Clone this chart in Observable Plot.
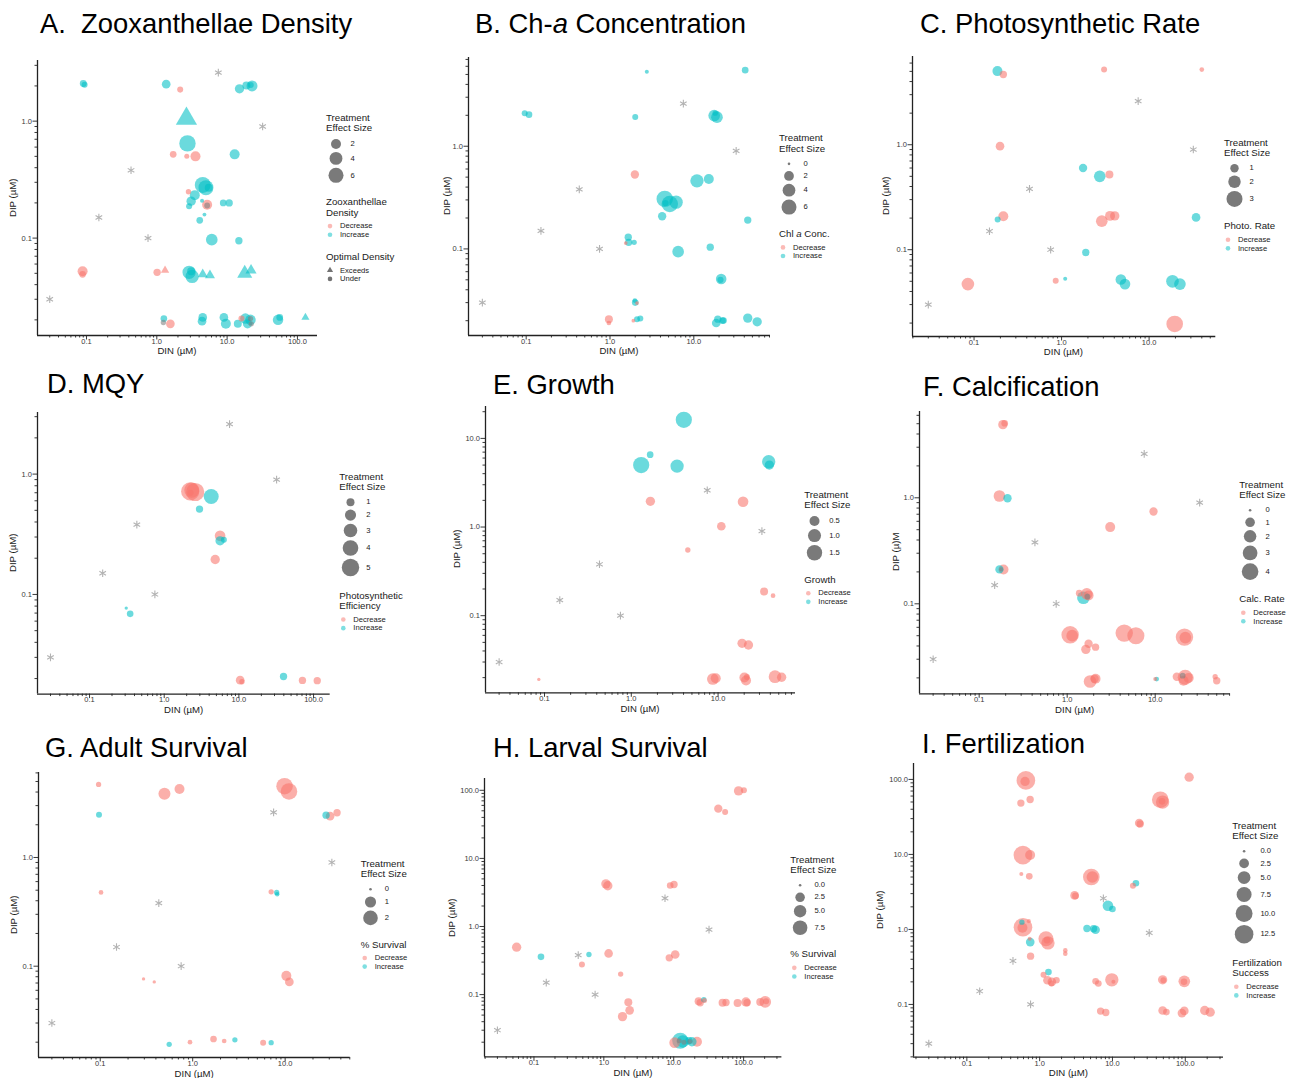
<!DOCTYPE html>
<html><head><meta charset="utf-8">
<script src="https://cdn.jsdelivr.net/npm/d3@7"></script>
<script src="https://cdn.jsdelivr.net/npm/@observablehq/plot@0.6"></script>
<style>
body{margin:0;background:#fff;}
#root{position:relative;width:1295px;height:1078px;overflow:hidden;font-family:"Liberation Sans",Arial,Helvetica,sans-serif;color:#111;}
.abs{position:absolute;white-space:nowrap;}
</style></head><body><div id="root"></div>
<script>
// ---------- DATA ----------
// reference (asterisk) nutrient points, shared by all panels
const refDIN = [0.03, 0.15, 0.43, 0.75, 7.5, 32];
const refDIP = [0.03, 0.15, 0.38, 0.10, 2.6, 0.9];

// tick labels
const tickValues = [0.1, 1, 10, 100];
const tickLabels = ["0.1", "1.0", "10.0", "100.0"];

// rows: [DIN, DIP, effect size, direction (D=Decrease, I=Increase, N=none), shape (T=Exceeds)]
const panelA = [
  [0.09,2.1,0.6,"I"],[0.094,2.05,0.35,"I"],[1.36,2.07,1.3,"I"],[2.15,1.86,0.35,"D"],
  [15,1.89,1.64,"I"],[18.8,2.02,1.0,"I"],[22.6,2.0,2.63,"I"],[21.7,2.04,0.35,"I"],
  [2.64,1.05,6.8,"I","T"],[2.73,0.645,7.5,"I"],[1.71,0.52,0.53,"D"],[2.67,0.5,0.15,"D"],
  [3.55,0.5,2.0,"D"],[12.8,0.52,2.0,"I"],[2.82,0.249,0.2,"D"],[3.47,0.233,2.0,"I"],
  [4.5,0.285,7.0,"I"],[5.0,0.27,6.0,"I"],[5.48,0.27,1.0,"I"],[3.08,0.207,1.64,"I"],
  [2.88,0.187,0.35,"I"],[4.4,0.209,0.03,"I"],[5.2,0.193,2.0,"D"],[5.2,0.19,0.3,"N"],
  [4.76,0.159,0.02,"I"],[4.08,0.142,0.53,"I"],[8.8,0.2,0.53,"I"],[10.7,0.2,0.75,"I"],
  [6.05,0.097,3.1,"I"],[14.7,0.095,0.75,"I"],[0.088,0.052,2.0,"D"],[0.088,0.049,0.53,"D"],
  [1.01,0.051,0.75,"D"],[1.31,0.053,0.4,"D","T"],[2.88,0.051,4.4,"I"],[3.18,0.047,4.4,"I"],
  [3.08,0.052,1.0,"I"],[4.5,0.049,0.78,"I","T"],[5.7,0.048,0.8,"I","T"],[17.8,0.05,2.75,"I","T"],
  [21.9,0.053,1.1,"I","T"],[1.26,0.0205,0.53,"I"],[1.24,0.019,0.2,"N"],[1.56,0.0185,1.3,"D"],
  [4.5,0.021,1.3,"I"],[4.4,0.0195,1.3,"I"],[9.0,0.021,1.3,"I"],[9.6,0.0185,2.0,"I"],
  [14.2,0.0185,1.0,"I"],[16,0.0205,0.35,"D"],[18.2,0.0205,2.3,"I"],[21.5,0.02,2.3,"I"],
  [19.5,0.0185,1.6,"I"],[21.5,0.0205,0.2,"N"],[22,0.0185,0.2,"N"],[53,0.02,2.3,"I"],
  [56,0.021,0.53,"I"],[130,0.021,0.35,"I","T"]
];
const panelB = [
  [2.75,5.3,0.08,"I"],[41,5.5,0.64,"I"],[0.096,2.1,0.45,"I"],[0.108,2.03,0.64,"I"],
  [2.0,1.93,0.45,"I"],[17.5,1.99,3.2,"I"],[18.9,1.92,3.2,"I"],[18,2.1,0.3,"I"],
  [1.98,0.53,1.28,"D"],[10.9,0.46,4.5,"I"],[15.1,0.48,2.14,"I"],[4.5,0.307,7.5,"I"],
  [5.17,0.274,7.5,"I"],[6.15,0.285,4.5,"I"],[4.6,0.28,0.5,"I"],[4.19,0.208,1.28,"I"],
  [44,0.191,0.87,"I"],[1.65,0.13,0.87,"I"],[1.67,0.116,0.87,"I"],[1.94,0.116,0.29,"I"],
  [1.54,0.114,0.05,"D"],[6.5,0.094,3.2,"I"],[15.7,0.104,0.87,"I"],[21.2,0.051,2.5,"I"],
  [20.8,0.05,0.5,"I"],[1.98,0.0314,0.17,"I"],[2.0,0.030,0.64,"I"],[2.1,0.0297,0.05,"D"],
  [0.97,0.0207,1.14,"D"],[0.97,0.019,0.17,"D"],[1.9,0.02,0.05,"D"],[2.1,0.0207,0.45,"I"],
  [2.3,0.021,0.45,"I"],[18.5,0.019,1.43,"I"],[19.3,0.0207,0.87,"I"],[22,0.02,0.64,"I"],
  [22.6,0.0201,0.64,"I"],[44,0.0212,1.77,"I"],[57,0.0195,1.77,"I"]
];
const panelC = [
  [0.185,5.03,1.37,"I"],[0.216,4.67,0.77,"D"],[3.06,5.2,0.5,"D"],[40,5.2,0.27,"D"],
  [0.198,0.97,1.06,"D"],[1.76,0.6,0.99,"I"],[2.73,0.5,1.79,"I"],[3.52,0.52,0.91,"D"],
  [0.216,0.208,1.37,"D"],[0.186,0.194,0.5,"I"],[2.88,0.187,1.79,"D"],[3.58,0.21,1.37,"D"],
  [4.05,0.21,1.22,"D"],[34.4,0.203,1.06,"I"],[1.89,0.094,0.77,"I"],[0.857,0.0507,0.5,"D"],
  [1.1,0.053,0.17,"I"],[0.085,0.047,2.06,"D"],[4.76,0.052,1.54,"I"],[5.3,0.047,1.54,"I"],
  [18.5,0.05,2.06,"I"],[22.5,0.047,1.79,"I"],[19.6,0.0196,3.19,"D"]
];
const panelD = [
  [2.23,0.718,5.5,"D"],[2.6,0.71,5.5,"D"],[2.34,0.736,3.7,"D"],[2.25,0.7,0.54,"D"],
  [4.26,0.652,3.7,"I"],[2.97,0.512,0.83,"I"],[5.6,0.307,1.82,"D"],[5.6,0.279,1.38,"I"],
  [6.3,0.285,0.54,"I"],[4.82,0.195,1.38,"D"],[0.31,0.077,0.15,"I"],[0.35,0.069,0.68,"I"],
  [10.4,0.0194,1.18,"D"],[11,0.0188,0.42,"D"],[39.6,0.0208,0.83,"I"],[71,0.0193,0.83,"D"],
  [112,0.0192,0.83,"D"]
];
const panelE = [
  [4.03,16.2,1.7,"I"],[1.3,5.0,1.7,"I"],[1.65,6.55,0.15,"I"],[3.37,4.87,1.05,"I"],
  [38.3,5.45,1.05,"I"],[39,5.0,0.41,"I"],[1.66,1.95,0.41,"D"],[19.4,1.93,0.59,"D"],
  [10.9,1.02,0.33,"D"],[4.48,0.55,0.07,"D"],[33.9,0.187,0.26,"D"],[43,0.168,0.04,"D"],
  [18.9,0.0488,0.41,"D"],[22.4,0.0467,0.41,"D"],[0.086,0.0191,0.005,"D"],[8.7,0.0193,0.75,"D"],
  [9.4,0.0197,0.5,"D"],[20.1,0.0201,0.5,"D"],[21,0.0186,0.5,"D"],[21.5,0.0203,0.1,"D"],
  [45.3,0.0205,0.93,"D"],[54,0.0202,0.41,"D"]
];
const panelF = [
  [0.186,4.9,0.93,"D"],[0.195,5.05,0.34,"D"],[0.17,1.04,1.68,"D"],[0.21,0.99,0.67,"I"],
  [9.57,0.743,0.67,"D"],[3.08,0.529,1.12,"D"],[0.189,0.211,1.12,"D"],[0.17,0.211,0.67,"I"],
  [0.178,0.211,0.05,"N"],[1.67,0.124,1.68,"D"],[1.37,0.126,0.34,"D"],[1.75,0.12,1.12,"D"],
  [1.53,0.114,2.07,"I"],[1.7,0.117,0.2,"N"],[1.08,0.051,4.5,"D"],[1.14,0.05,1.68,"D"],
  [4.45,0.0529,4.5,"D"],[6.03,0.0499,4.3,"D"],[21.5,0.0485,4.5,"D"],[22,0.048,1.68,"D"],
  [1.75,0.042,0.67,"D"],[1.63,0.0372,0.93,"D"],[2.1,0.039,0.46,"D"],[1.82,0.0185,2.07,"D"],
  [2.1,0.0196,1.12,"D"],[2.05,0.0196,0.67,"D"],[10,0.0195,0.04,"D"],[10.4,0.0195,0.09,"I"],
  [17.6,0.0205,0.67,"D"],[21.9,0.0203,3.14,"D"],[21,0.0188,1.12,"D"],[20.5,0.021,0.2,"N"],
  [24,0.02,1.12,"D"],[48,0.0205,0.15,"D"],[50,0.0188,0.46,"D"]
];
const panelG = [
  [0.096,4.7,0.1,"D"],[0.495,3.85,1.23,"D"],[0.72,4.26,0.76,"D"],[9.85,4.53,2.7,"D"],
  [11,4.05,2.7,"D"],[0.097,2.47,0.16,"I"],[27.7,2.45,0.31,"I"],[30.6,2.4,0.51,"D"],
  [36.4,2.58,0.31,"D"],[0.102,0.477,0.06,"D"],[7.06,0.483,0.1,"D"],[8.1,0.477,0.1,"I"],
  [8.2,0.46,0.05,"I"],[0.294,0.0764,0.008,"D"],[0.384,0.0717,0.008,"D"],[10.3,0.0815,0.76,"D"],
  [11.1,0.0717,0.51,"D"],[0.557,0.0191,0.1,"I"],[0.935,0.02,0.06,"D"],[1.68,0.0214,0.23,"D"],
  [2.19,0.0205,0.06,"D"],[2.86,0.021,0.1,"I"],[5.78,0.0198,0.16,"D"],[7.06,0.0198,0.1,"I"]
];
const panelH = [
  [84.7,98,2.36,"D"],[101,100,0.6,"D"],[43.4,53.8,1.72,"D"],[54.4,48,0.6,"D"],
  [1.07,4.23,2.36,"D"],[1.14,3.97,2.36,"D"],[8.9,4.0,0.86,"D"],[10.1,4.14,1.17,"D"],
  [0.0565,0.497,2.36,"D"],[0.126,0.359,0.86,"I"],[0.612,0.388,0.39,"I"],[0.486,0.277,0.6,"D"],
  [1.17,0.402,1.91,"D"],[8.63,0.347,1.17,"D"],[10.5,0.388,1.91,"D"],[1.74,0.2,0.39,"D"],
  [2.24,0.0773,1.52,"D"],[2.34,0.0587,1.91,"D"],[1.85,0.0475,2.36,"D"],[22.7,0.0798,1.52,"D"],
  [23.9,0.076,1.17,"D"],[27,0.084,0.39,"I"],[27.5,0.082,0.3,"D"],[50,0.0762,1.52,"D"],
  [56,0.0765,1.17,"D"],[82,0.075,1.52,"D"],[108,0.078,2.36,"D"],[112,0.076,1.17,"D"],
  [173,0.078,1.52,"D"],[204,0.078,4.28,"D"],[210,0.08,0.6,"D"],[12.4,0.021,9.5,"I"],
  [13.5,0.0205,5.0,"I"],[10.3,0.0197,3.38,"D"],[18.2,0.0203,2.36,"I"],[16.5,0.021,1.17,"I"],
  [21.5,0.0203,2.85,"D"],[12,0.021,0.3,"N"],[14,0.02,0.3,"N"],[17,0.0205,0.3,"N"]
];
const panelI = [
  [0.647,97,12.6,"D"],[0.63,94,2.2,"D"],[113,107,2.2,"D"],[0.552,48.3,1.1,"D"],
  [0.74,54,1.1,"D"],[45.4,53.6,9.65,"D"],[48.8,49.9,5.6,"D"],[48,51,0.8,"D"],
  [23.3,26.2,1.8,"D"],[24,25.5,1.1,"D"],[0.589,9.8,12.6,"D"],[0.74,9.8,2.67,"D"],
  [0.56,5.47,0.1,"D"],[0.72,5.1,0.8,"D"],[5.12,5.0,9.65,"D"],[5.3,5.0,4.0,"D"],
  [19.1,3.82,0.56,"D"],[21,4.13,0.8,"I"],[3.02,2.84,1.8,"D"],[3.1,2.8,0.8,"D"],
  [8.67,2.07,3.17,"I"],[10,1.87,0.8,"I"],[0.59,1.07,12.6,"D"],[0.58,1.05,2.67,"D"],
  [0.57,1.25,0.37,"I"],[0.71,1.29,0.1,"D"],[4.46,1.03,1.1,"I"],[5.86,0.99,1.8,"I"],
  [5.5,1.02,1.1,"I"],[1.22,0.751,7.5,"D"],[1.3,0.66,5.6,"D"],[1.26,0.72,0.8,"D"],
  [0.742,0.678,1.8,"I"],[0.73,0.75,0.1,"D"],[2.25,0.525,0.2,"D"],[2.25,0.475,0.2,"D"],
  [0.75,0.44,1.1,"D"],[1.32,0.27,0.8,"I"],[1.13,0.249,0.56,"D"],[1.28,0.21,1.8,"D"],
  [1.47,0.2,1.8,"D"],[1.7,0.21,0.8,"D"],[1.45,0.19,0.56,"D"],[5.87,0.203,0.8,"D"],
  [6.4,0.19,0.8,"D"],[9.8,0.213,5.6,"D"],[10.3,0.2,0.1,"D"],[48.9,0.213,2.2,"D"],
  [50,0.21,0.5,"D"],[97,0.203,4.0,"D"],[96,0.2,0.8,"D"],[6.87,0.0815,1.1,"D"],
  [8.1,0.078,1.1,"D"],[48.9,0.083,1.8,"D"],[55,0.079,0.8,"D"],[90,0.0766,1.8,"D"],
  [97,0.082,1.8,"D"],[185,0.083,2.2,"D"],[220,0.0788,2.2,"D"]
];

const DIRS = {D: "Decrease", I: "Increase", N: "None"};
const COLORS = ["#F8766D", "#00BFC4", "#7f7f7f"];

// ---------- PANEL LAYOUT ----------
const panels = [
  {rows: panelA, title: "A.&nbsp;&nbsp;Zooxanthellae Density", tx: 40, tb: 33,
   frame: [37, 60, 317, 335], x: [0.0201, 193], y: [0.0147, 3.30], ylabDx: -23.7,
   r: {type: "sqrt", domain: [0, 6], range: [1.58, 7.5]}, breaks: [2, 4, 6], blabels: ["2", "4", "6"],
   leg: [326, 117.7], dirTitle: ["Zooxanthellae", "Density"], shapes: true, ylab: "DIP (µM)"},
  {rows: panelB, title: "B. Ch-<i>a</i> Concentration", tx: 475, tb: 33,
   frame: [468, 57, 770, 335], x: [0.0205, 82.2], y: [0.01435, 7.31], ylabDx: -21.3,
   r: {type: "sqrt", domain: [0, 6], range: [1.3, 7.5]}, breaks: [0, 2, 4, 6], blabels: ["0", "2", "4", "6"],
   leg: [779, 138.3], dirTitle: ["Chl <i>a</i> Conc."], ylab: "DIP (µM)"},
  {rows: panelC, title: "C. Photosynthetic Rate", tx: 920, tb: 33.5,
   frame: [911.7, 56, 1215, 336], x: [0.0198, 57.8], y: [0.0149, 6.93], ylabDx: -25.7,
   r: {type: "pow", exponent: 0.75, domain: [0, 3], range: [1.23, 8]}, breaks: [1, 2, 3], blabels: ["1", "2", "3"],
   leg: [1224, 142.7], dirTitle: ["Photo. Rate"], ylab: "DIP (µM)"},
  {rows: panelD, title: "D. MQY", tx: 47, tb: 393,
   frame: [37.3, 411.7, 330, 693.3], x: [0.0201, 167], y: [0.01486, 3.25], ylabDx: -24,
   r: {type: "sqrt", domain: [0, 5], range: [0.2, 8.7]}, breaks: [1, 2, 3, 4, 5], blabels: ["1", "2", "3", "4", "5"],
   leg: [339.3, 476.7], dirTitle: ["Photosynthetic", "Efficiency"], ylab: "DIP (µM)"},
  {rows: panelE, title: "E. Growth", tx: 493, tb: 394,
   frame: [485, 406, 795, 692.3], x: [0.0209, 78], y: [0.01349, 22.9], ylabDx: -28.3,
   r: {type: "sqrt", domain: [0, 1.5], range: [1.32, 7.7]}, breaks: [0.5, 1, 1.5], blabels: ["0.5", "1.0", "1.5"],
   leg: [804.3, 494.7], dirTitle: ["Growth"], ylab: "DIP (µM)"},
  {rows: panelF, title: "F. Calcification", tx: 923, tb: 396,
   frame: [919.3, 411, 1230, 693.3], x: [0.021, 71.1], y: [0.01416, 6.52], ylabDx: -23.3,
   r: {type: "sqrt", domain: [0, 4], range: [1.3, 8.3]}, breaks: [0, 1, 2, 3, 4], blabels: ["0", "1", "2", "3", "4"],
   leg: [1239.3, 484.7], dirTitle: ["Calc. Rate"], ylab: "DIP (µ)M"},
  {rows: panelG, title: "G. Adult Survival", tx: 45, tb: 757,
   frame: [38.3, 772.3, 350, 1057.3], x: [0.0215, 50.5], y: [0.01446, 6.05], ylabDx: -24.3,
   r: {type: "sqrt", domain: [0, 2], range: [1.3, 7.3]}, breaks: [0, 1, 2], blabels: ["0", "1", "2"],
   leg: [360.7, 863.7], dirTitle: ["% Survival"], ylab: "DIP (µM)"},
  {rows: panelH, title: "H. Larval Survival", tx: 493, tb: 757,
   frame: [484.3, 778.3, 781.7, 1056.7], x: [0.0196, 353], y: [0.01217, 149], ylabDx: -32.6,
   r: {type: "sqrt", domain: [0, 7.5], range: [1.3, 7.3]}, breaks: [0, 2.5, 5, 7.5], blabels: ["0.0", "2.5", "5.0", "7.5"],
   leg: [790.3, 859.7], dirTitle: ["% Survival"], ylab: "DIP (µM)"},
  {rows: panelI, title: "I. Fertilization", tx: 922, tb: 753.3,
   frame: [913.3, 763, 1223.3, 1056.7], x: [0.0185, 335], y: [0.0198, 163], ylabDx: -33.3,
   r: {type: "sqrt", domain: [0, 12.5], range: [1.3, 9.3]}, breaks: [0, 2.5, 5, 7.5, 10, 12.5], blabels: ["0.0", "2.5", "5.0", "7.5", "10.0", "12.5"],
   leg: [1232.3, 825.7], dirTitle: ["Fertilization", "Success"], ylab: "DIP (µM)"}
];

// ---------- DRAW ----------
const root = document.getElementById("root");
const FONT = '"Liberation Sans", Arial, Helvetica, sans-serif';
const TITLE_FS = 27.4;

function txt(html, x, cy, fs, opts = {}) {
  const d = document.createElement("div");
  d.className = "abs";
  d.innerHTML = html;
  d.style.left = x + "px";
  d.style.top = (cy - fs / 2) + "px";
  d.style.fontSize = fs + "px";
  d.style.lineHeight = fs + "px";
  d.style.color = opts.color || "#1a1a1a";
  if (opts.transform) d.style.transform = opts.transform;
  root.appendChild(d);
  return d;
}

function minorTicks(dom) {
  const out = [];
  for (let k = -3; k <= 3; k++) for (let m = 2; m <= 9; m++) {
    const v = m * Math.pow(10, k);
    if (v >= dom[0] && v <= dom[1]) out.push(v);
  }
  return out;
}
const fmt = v => { const i = tickValues.findIndex(t => Math.abs(t - v) < 1e-9 * Math.max(1, v)); return i >= 0 ? tickLabels[i] : ""; };

const legendJobs = [];
const refs = refDIN.map((d, i) => ({din: d, dip: refDIP[i]}));

panels.forEach(p => {
  const [fl, ft, fr, fb] = p.frame;
  const ML = 46, MR = 14, MT = 14, MB = 22;
  const W = fr - fl + ML + MR, H = fb - ft + MT + MB;
  const data = p.rows.map(([din, dip, size, dir, shape]) => ({din, dip, size, dir: DIRS[dir], shape: shape === "T" ? "Exceeds" : "Under"}));
  const majX = tickValues.filter(t => t >= p.x[0] && t <= p.x[1]);
  const majY = tickValues.filter(t => t >= p.y[0] && t <= p.y[1]);
  const opts = {
    width: W, height: H, marginLeft: ML, marginRight: MR, marginTop: MT, marginBottom: MB,
    x: {type: "log", domain: p.x, label: null},
    y: {type: "log", domain: p.y, label: null},
    r: p.r,
    color: {type: "ordinal", domain: ["Decrease", "Increase", "None"], range: COLORS},
    style: {fontFamily: FONT, fontSize: "7.5px", color: "#3a3a3a", background: "transparent", overflow: "visible"},
    marks: [
      Plot.axisX({ticks: majX, tickSize: 4.5, tickPadding: -1.5, tickFormat: fmt, label: null}),
      Plot.axisX({ticks: minorTicks(p.x), tickSize: 2.5, tickFormat: () => "", label: null}),
      Plot.axisY({ticks: majY, tickSize: 4.5, tickPadding: 1, tickFormat: fmt, label: null}),
      Plot.axisY({ticks: minorTicks(p.y), tickSize: 2.5, tickFormat: () => "", label: null}),
      Plot.ruleY([p.y[0]], {stroke: "#222", strokeWidth: 1.3}),
      Plot.ruleX([p.x[0]], {stroke: "#222", strokeWidth: 1.3}),
      Plot.dot(refs, {x: "din", y: "dip", symbol: "asterisk", stroke: "#b3b3b3", r: 3.6, strokeWidth: 1.1}),
      Plot.dot(data, {x: "din", y: "dip", r: "size", fill: "dir", fillOpacity: 0.58,
        symbol: p.shapes ? "shape" : "circle"})
    ]
  };
  if (p.shapes) opts.symbol = {domain: ["Exceeds", "Under"], range: ["triangle", "circle"]};
  const plot = Plot.plot(opts);
  plot.style.position = "absolute";
  plot.style.left = (fl - ML) + "px";
  plot.style.top = (ft - MT) + "px";
  root.appendChild(plot);

  // title
  const t = txt(p.title, p.tx, 0, TITLE_FS, {color: "#000"});
  t.style.top = (p.tb - 0.8465 * TITLE_FS) + "px";
  // axis titles
  txt("DIN (µM)", (fl + fr) / 2, fb + 16, 9.6, {transform: "translateX(-50%)"});
  txt(p.ylab, fl + p.ylabDx, (ft + fb) / 2, 9.6, {transform: "translate(-50%,0) rotate(-90deg)"}).style.transformOrigin = "50% 50%";

  // r scale for legend keys
  let rs;
  try { const s = plot.scale("r"); rs = s && s.apply ? (v => s.apply(v)) : null; } catch (e) { rs = null; }
  if (!rs) {
    const sc = p.r.type === "pow" ? d3.scalePow().exponent(p.r.exponent) : d3.scaleSqrt();
    sc.domain(p.r.domain).range(p.r.range);
    rs = v => sc(v);
  }
  legendJobs.push({p, rs});
});

const overlay = d3.select(root).append("svg")
  .attr("width", 1295).attr("height", 1078)
  .style("position", "absolute").style("left", 0).style("top", 0).style("pointer-events", "none");

legendJobs.forEach(({p, rs}) => {
  const [x0, y0] = p.leg;
  const TFS = 9.7, IFS = 7.6, LH = 10.5;
  txt("Treatment", x0, y0, TFS);
  txt("Effect Size", x0, y0 + LH, TFS);
  let cur = y0 + LH + 5 + 4.3;
  const rmax = rs(p.breaks[p.breaks.length - 1]);
  const cx = x0 + rmax + 2.5;
  p.breaks.forEach((v, i) => {
    const r = Math.max(0.5, rs(v));
    const h = Math.max(11.5, 2 * r + 3);
    const cy = cur + h / 2;
    overlay.append("circle").attr("cx", cx).attr("cy", cy).attr("r", r).attr("fill", "#222").attr("fill-opacity", 0.6);
    txt(p.blabels[i], cx + rmax + 7, cy, IFS);
    cur += h;
  });
  let c = cur + 12.7 + 5;
  p.dirTitle.forEach((line, i) => { txt(line, x0, c, TFS); if (i < p.dirTitle.length - 1) c += LH; });
  cur = c + 5 + 4.3;
  ["Decrease", "Increase"].forEach((lab, i) => {
    const cy = cur + 4.3;
    overlay.append("circle").attr("cx", x0 + 4).attr("cy", cy).attr("r", 2.3).attr("fill", COLORS[i]).attr("fill-opacity", 0.5);
    txt(lab, x0 + 14, cy, IFS);
    cur += 8.6;
  });
  if (p.shapes) {
    c = cur + 12.7 + 5;
    txt("Optimal Density", x0, c, TFS);
    cur = c + 5 + 4.3;
    [["Exceeds", d3.symbolTriangle], ["Under", d3.symbolCircle]].forEach(([lab, sym]) => {
      const cy = cur + 4.3;
      overlay.append("path").attr("d", d3.symbol(sym, Math.PI * 2.3 * 2.3)()).attr("transform", `translate(${x0 + 4},${cy})`)
        .attr("fill", "#444").attr("fill-opacity", 0.75);
      txt(lab, x0 + 14, cy, IFS);
      cur += 8.6;
    });
  }
});
</script>
</body></html>
